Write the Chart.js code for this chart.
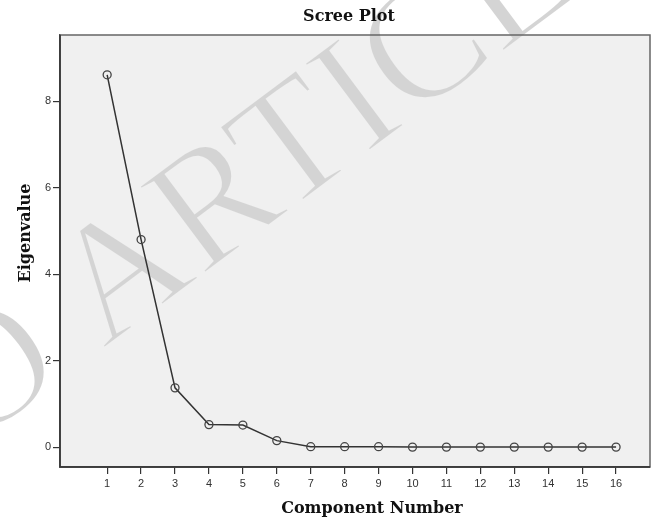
<!DOCTYPE html>
<html>
<head>
<meta charset="utf-8">
<script src="https://cdn.jsdelivr.net/npm/chart.js@4/dist/chart.umd.min.js"></script>
<style>
  body { margin: 0; background: #fff; }
  canvas { display: block; }
</style>
</head>
<body>
<canvas id="screeChart" width="667" height="522"></canvas>
<script>
const components = [1, 2, 3, 4, 5, 6, 7, 8, 9, 10, 11, 12, 13, 14, 15, 16]
const eigenvalues = [8.61, 4.80, 1.37, 0.52, 0.51, 0.15, 0.01, 0.01, 0.01, 0.00, 0.00, 0.00, 0.00, 0.00, 0.00, 0.00]
const xTicks = components
const yTicks = [0, 2, 4, 6, 8]

const tickFont = { family: "'Liberation Sans', Arial, sans-serif", size: 11 }
const serifBold = (size) => `bold ${size}px 'DejaVu Serif', serif`

// light diagonal watermark, thinned a bit so it looks like the original
function watermark(w, h) {
  const off = document.createElement('canvas')
  off.width = w
  off.height = h
  const c = off.getContext('2d')
  c.font = "168px 'Liberation Serif', serif"
  c.fillStyle = '#d4d4d4'
  const sp = c.measureText('O ').width
  c.translate(103, 350)
  c.rotate(-0.64)
  c.fillText('O ARTICLE', -sp, 0)
  c.globalCompositeOperation = 'destination-out'
  c.lineWidth = 3.5
  c.strokeStyle = '#000'
  c.strokeText('O ARTICLE', -sp, 0)
  return off
}

const decor = {
  id: 'decor',
  beforeDraw(chart) {
    const { ctx, chartArea: a } = chart
    ctx.save()
    ctx.fillStyle = '#ffffff'
    ctx.fillRect(0, 0, chart.width, chart.height)
    ctx.fillStyle = '#f0f0f0'
    ctx.fillRect(a.left, a.top, a.right - a.left, a.bottom - a.top)
    ctx.drawImage(watermark(chart.width, chart.height), 0, 0)
    ctx.restore()
  },
  afterDraw(chart) {
    const { ctx, chartArea: a } = chart
    ctx.save()
    ctx.strokeStyle = '#666'
    ctx.lineWidth = 1.5
    ctx.strokeRect(a.left, a.top, a.right - a.left, a.bottom - a.top)
    ctx.strokeStyle = '#333'
    ctx.beginPath()
    ctx.moveTo(a.left, a.top)
    ctx.lineTo(a.left, a.bottom)
    ctx.lineTo(a.right, a.bottom)
    ctx.stroke()

    ctx.fillStyle = '#111'
    ctx.textAlign = 'center'
    ctx.textBaseline = 'middle'
    ctx.font = serifBold(16)
    ctx.fillText('Scree Plot', 349, 17)
    ctx.fillText('Component Number', 372, 509)
    ctx.translate(26, 233)
    ctx.rotate(-Math.PI / 2)
    ctx.fillText('Eigenvalue', 0, 0)
    ctx.restore()
  }
}

const ctx1 = document.getElementById('screeChart')

new Chart(ctx1, {
  type: 'line',
  data: {
    datasets: [{
      label: 'Eigenvalue',
      data: components.map((c, i) => ({ x: c, y: eigenvalues[i] })),
      borderColor: '#333',
      borderWidth: 1.5,
      tension: 0,
      pointRadius: 4,
      pointBorderColor: '#444',
      pointBorderWidth: 1.3,
      pointBackgroundColor: 'rgba(0,0,0,0)'
    }]
  },
  options: {
    responsive: false,
    animation: false,
    layout: { padding: { top: 35, right: 17, left: 0, bottom: 0 } },
    plugins: {
      legend: { display: false },
      tooltip: { enabled: false },
      title: { display: false }
    },
    scales: {
      x: {
        type: 'linear',
        min: -0.39,
        max: 17,
        grid: { drawOnChartArea: false, tickLength: 7, color: '#333', lineWidth: 1.2 },
        border: { display: true, color: '#333', width: 1.5 },
        ticks: { font: tickFont, color: '#333', padding: 3, maxRotation: 0, autoSkip: false },
        afterBuildTicks: (s) => { s.ticks = xTicks.map(v => ({ value: v })) },
        afterFit: (s) => { s.height = 55 }
      },
      y: {
        min: -0.46,
        max: 9.53,
        grid: { drawOnChartArea: false, tickLength: 7, color: '#333', lineWidth: 1.2 },
        border: { display: true, color: '#333', width: 1.5 },
        ticks: { font: tickFont, color: '#333', padding: 2 },
        afterBuildTicks: (s) => { s.ticks = yTicks.map(v => ({ value: v })) },
        afterFit: (s) => { s.width = 60 }
      }
    }
  },
  plugins: [decor]
})
</script>
</body>
</html>
